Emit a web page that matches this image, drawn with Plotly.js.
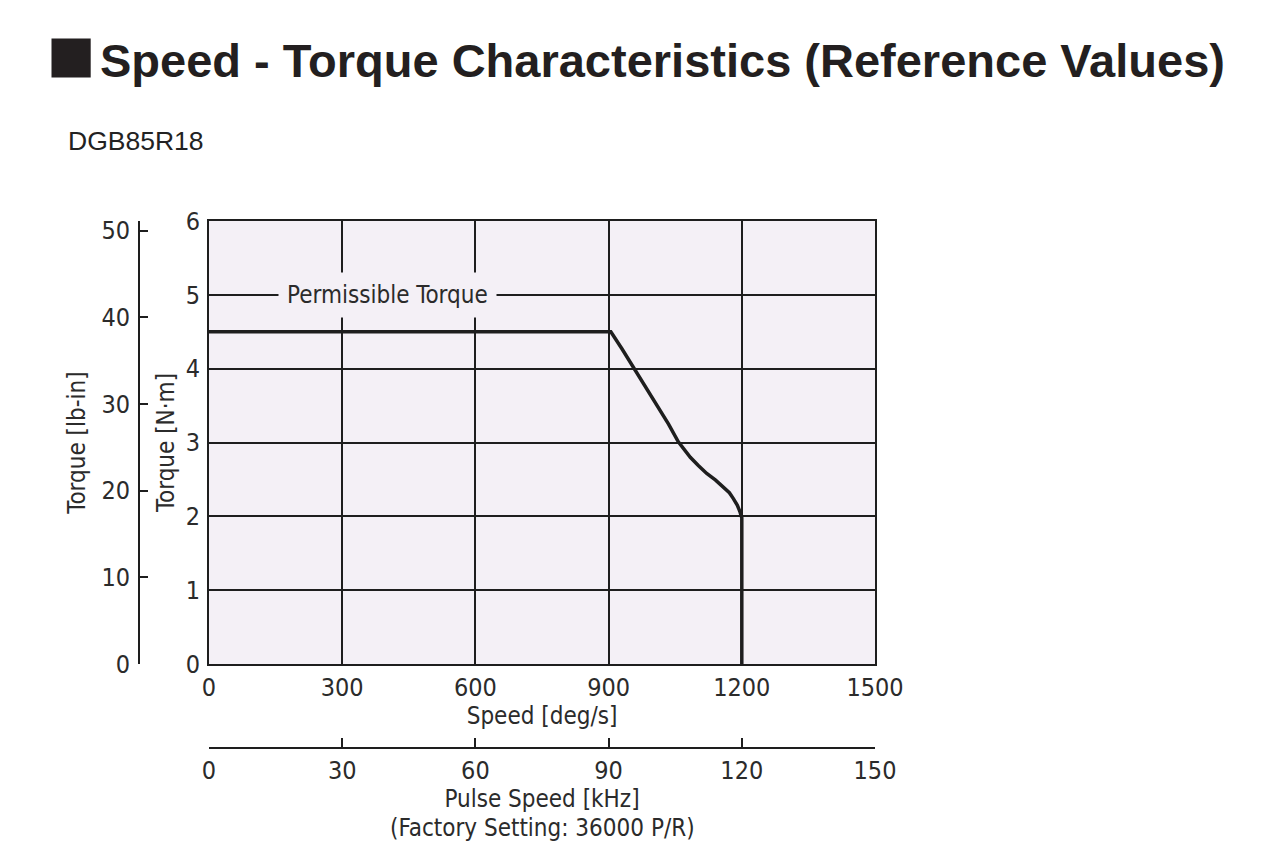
<!DOCTYPE html>
<html>
<head>
<meta charset="utf-8">
<script src="https://cdn.plot.ly/plotly-3.0.1.min.js"></script>
<style>html,body{margin:0;padding:0;background:#fff;}#chart{width:1280px;height:847px;}</style>
</head>
<body>
<div id="chart"></div>
<script>
// Speed [deg/s] and permissible torque [N·m]
var speedDeg = [0, 905, 930, 956, 983, 1009, 1035, 1057, 1070, 1084, 1102, 1121, 1141, 1159, 1172, 1181, 1190, 1196, 1200, 1200];
var torqueNm = [4.5, 4.5, 4.27, 4.02, 3.76, 3.50, 3.25, 3.01, 2.90, 2.80, 2.69, 2.58, 2.49, 2.40, 2.32, 2.24, 2.15, 2.06, 1.98, 0];

var speedTicks = [0, 300, 600, 900, 1200, 1500];
var pulseTicks = [0, 30, 60, 90, 120, 150];
var nmTicks = [0, 1, 2, 3, 4, 5, 6];
var lbinTicks = [0, 10, 20, 30, 40, 50];

var chartTitle = 'Speed - Torque Characteristics (Reference Values)';
var modelName = 'DGB85R18';
var curveLabel = 'Permissible Torque';
var pulseTitle = 'Pulse Speed [kHz]';
var pulseNote = '(Factory Setting: 36000 P/R)';

var narrow = "'Liberation Sans Narrow', 'Arial Narrow', 'DejaVu Sans Condensed', sans-serif";
var txt = '#2b2b2b';
var ink = '#1e1e1e';
var bg = '#f4f0f6';

var W = 1280, H = 847;
var mL = 60, mR = 60, mT = 180, mB = 20;
var pw = W - mL - mR, ph = H - mT - mB;
function px(x) { return (x - mL) / pw; }
function py(y) { return (H - mB - y) / ph; }

var traces = [{
  x: speedDeg, y: torqueNm, type: 'scatter', mode: 'lines',
  line: {color: ink, width: 3.5, shape: 'linear'},
  hoverinfo: 'x+y', showlegend: false
}, {
  // invisible anchor so the pulse-speed axis is drawn
  x: [pulseTicks[0], pulseTicks[pulseTicks.length - 1]], y: [0, 0],
  xaxis: 'x2', yaxis: 'y', type: 'scatter', mode: 'markers',
  marker: {opacity: 0, size: 1}, hoverinfo: 'skip', showlegend: false
}, {
  // invisible anchor so the lb-in axis is drawn
  x: [0, 0], y: [lbinTicks[0], lbinTicks[lbinTicks.length - 1]],
  xaxis: 'x', yaxis: 'y2', type: 'scatter', mode: 'markers',
  marker: {opacity: 0, size: 1}, hoverinfo: 'skip', showlegend: false
}];

var layout = {
  width: W, height: H,
  margin: {l: mL, r: mR, t: mT, b: mB},
  paper_bgcolor: '#ffffff',
  plot_bgcolor: bg,
  showlegend: false,
  title: {
    text: chartTitle, xref: 'container', yref: 'container',
    x: 100 / W, xanchor: 'left', y: 1 - 61 / H, yanchor: 'middle',
    font: {family: "'Liberation Sans', Arial, sans-serif", size: 47, weight: 700, color: '#231f20'}
  },
  xaxis: {
    domain: [px(209), px(875)], range: [0, 1500], tickvals: speedTicks,
    showline: true, mirror: true, linecolor: ink, linewidth: 2,
    showgrid: true, gridcolor: ink, gridwidth: 2, zeroline: false,
    ticks: '', tickfont: {family: narrow, size: 25, color: txt},
    title: {text: 'Speed [deg/s]', standoff: 5, font: {family: narrow, size: 24, color: txt}},
    fixedrange: true
  },
  yaxis: {
    domain: [py(664), py(221)], range: [0, 6], tickvals: nmTicks,
    showline: true, mirror: true, linecolor: ink, linewidth: 2,
    showgrid: true, gridcolor: ink, gridwidth: 2, zeroline: false,
    ticks: '', ticklabelstandoff: 2, tickfont: {family: narrow, size: 25, color: txt},
    title: {text: 'Torque [N·m]', standoff: 4, font: {family: narrow, size: 24, color: txt}},
    fixedrange: true
  },
  xaxis2: {
    overlaying: 'x', anchor: 'free', position: py(748), side: 'bottom',
    range: [0, 150], tickvals: pulseTicks,
    showline: true, linecolor: ink, linewidth: 2, showgrid: false, zeroline: false,
    ticks: 'inside', ticklen: 9, tickwidth: 2, tickcolor: ink,
    tickfont: {family: narrow, size: 25, color: txt},
    title: {text: pulseTitle, standoff: 0, font: {family: narrow, size: 24, color: txt}},
    fixedrange: true
  },
  yaxis2: {
    overlaying: 'y', anchor: 'free', position: px(139), side: 'left',
    range: [0, 51.1], tickvals: lbinTicks,
    showline: true, linecolor: ink, linewidth: 2, showgrid: false, zeroline: false,
    ticks: 'inside', ticklen: 8, tickwidth: 2, tickcolor: ink, ticklabelstandoff: 3,
    tickfont: {family: narrow, size: 25, color: txt},
    title: {text: 'Torque [lb-in]', standoff: 8, font: {family: narrow, size: 24, color: txt}},
    fixedrange: true
  },
  shapes: [{
    type: 'rect', xref: 'paper', yref: 'paper',
    x0: px(51.5), x1: px(90.7), y0: py(77.5), y1: py(38.5),
    fillcolor: '#231f20', line: {width: 0}
  }],
  annotations: [{
    text: modelName, xref: 'paper', yref: 'paper', x: px(66), xanchor: 'left',
    y: py(141), yanchor: 'middle', showarrow: false,
    font: {family: "'Liberation Sans', Arial, sans-serif", size: 26.5, color: '#222'}
  }, {
    text: curveLabel, xref: 'x', yref: 'y', x: 402, y: 5, xanchor: 'center', yanchor: 'middle',
    showarrow: false, bgcolor: bg, borderpad: 8,
    font: {family: narrow, size: 24, color: txt}
  }, {
    text: pulseNote, xref: 'x', yref: 'paper', x: 750, y: py(828), xanchor: 'center', yanchor: 'middle',
    showarrow: false, font: {family: narrow, size: 24, color: txt}
  }]
};

Plotly.newPlot('chart', traces, layout, {displayModeBar: false, staticPlot: true});
</script>
</body>
</html>
